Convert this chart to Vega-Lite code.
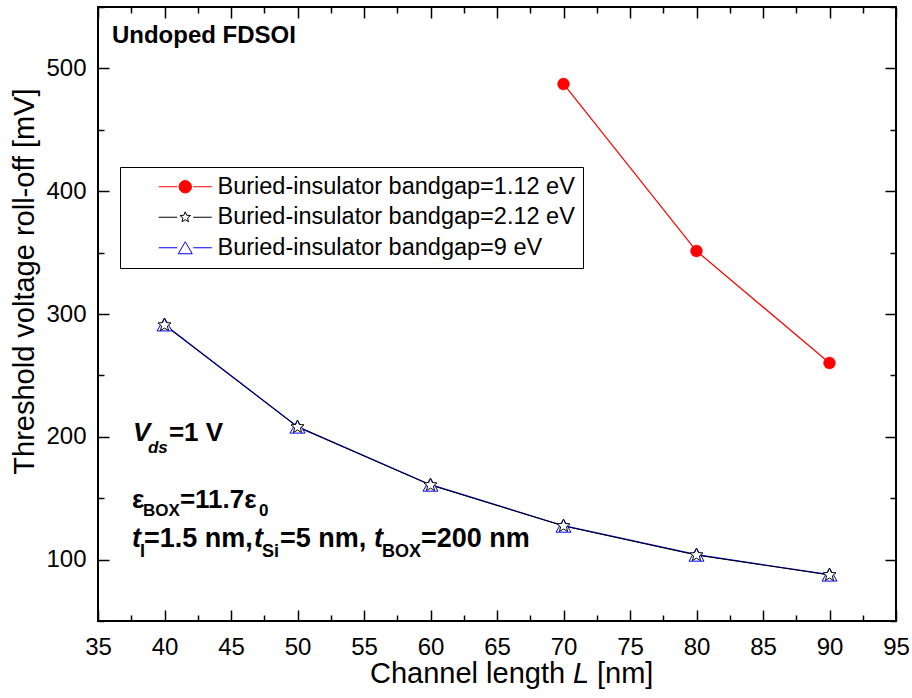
{
  "$schema": "https://vega.github.io/schema/vega-lite/v6.json",
  "width": 798,
  "height": 614,
  "autosize": "none",
  "padding": {"left": 98, "top": 7, "right": 16, "bottom": 77},
  "background": "white",
  "config": {
    "view": {"stroke": "black", "strokeWidth": 2},
    "font": "Liberation Sans",
    "axis": {
      "labelFont": "Liberation Sans", "labelFontSize": 24, "labelColor": "black",
      "tickColor": "black", "tickWidth": 1.5, "grid": false, "domain": false,
      "titleFont": "Liberation Sans", "titleFontSize": 29, "titleFontWeight": "normal", "titleColor": "black",
      "labelFlush": false, "labelOverlap": false, "labelBound": false
    }
  },
  "datasets": {
    "pts": [
      {"series": "Buried-insulator bandgap=1.12 eV", "L": 70, "V": 487.3},
      {"series": "Buried-insulator bandgap=1.12 eV", "L": 80, "V": 351.3},
      {"series": "Buried-insulator bandgap=1.12 eV", "L": 90, "V": 260.1},
      {"series": "Buried-insulator bandgap=2.12 eV", "L": 40, "V": 291},
      {"series": "Buried-insulator bandgap=2.12 eV", "L": 50, "V": 208},
      {"series": "Buried-insulator bandgap=2.12 eV", "L": 60, "V": 160.7},
      {"series": "Buried-insulator bandgap=2.12 eV", "L": 70, "V": 127.4},
      {"series": "Buried-insulator bandgap=2.12 eV", "L": 80, "V": 103.7},
      {"series": "Buried-insulator bandgap=2.12 eV", "L": 90, "V": 87.5},
      {"series": "Buried-insulator bandgap=9 eV", "L": 40, "V": 291.5},
      {"series": "Buried-insulator bandgap=9 eV", "L": 50, "V": 208.3},
      {"series": "Buried-insulator bandgap=9 eV", "L": 60, "V": 161},
      {"series": "Buried-insulator bandgap=9 eV", "L": 70, "V": 127.6},
      {"series": "Buried-insulator bandgap=9 eV", "L": 80, "V": 104},
      {"series": "Buried-insulator bandgap=9 eV", "L": 90, "V": 87.8}
    ],
    "one": [{}]
  },
  "data": {"name": "pts"},
  "layer": [
    {
      "transform": [{"filter": {"field": "series", "equal": "Buried-insulator bandgap=1.12 eV"}}],
      "mark": {"type": "line", "strokeWidth": 1.2, "color": "#ff0000"},
      "encoding": {
        "x": {"field": "L", "type": "quantitative", "scale": {"domain": [35, 95], "nice": false, "zero": false},
          "axis": {"orient": "bottom", "values": [35, 40, 45, 50, 55, 60, 65, 70, 75, 80, 85, 90, 95], "tickSize": -11, "labelPadding": 25, "title": null}},
        "y": {"field": "V", "type": "quantitative", "scale": {"domain": [50, 550], "nice": false, "zero": false},
          "axis": {"orient": "left", "values": [100, 200, 300, 400, 500], "tickSize": -11, "labelPadding": 23,
            "title": "Threshold voltage roll-off [mV]", "titleX": -65, "titleY": 274, "titleAngle": -90, "titleBaseline": "alphabetic", "titleAlign": "center"}}
      }
    },
    {
      "transform": [{"filter": {"field": "series", "equal": "Buried-insulator bandgap=9 eV"}}],
      "mark": {"type": "line", "strokeWidth": 1.2, "color": "#0000ff"},
      "encoding": {
        "x": {"field": "L", "type": "quantitative", "scale": {"domain": [35, 95], "nice": false, "zero": false}, "axis": null},
        "y": {"field": "V", "type": "quantitative", "scale": {"domain": [50, 550], "nice": false, "zero": false}, "axis": null}
      }
    },
    {
      "transform": [{"filter": {"field": "series", "equal": "Buried-insulator bandgap=2.12 eV"}}],
      "mark": {"type": "line", "strokeWidth": 1, "color": "#000000"},
      "encoding": {
        "x": {"field": "L", "type": "quantitative", "scale": {"domain": [35, 95], "nice": false, "zero": false}, "axis": null},
        "y": {"field": "V", "type": "quantitative", "scale": {"domain": [50, 550], "nice": false, "zero": false}, "axis": null}
      }
    },
    {
      "transform": [{"filter": {"field": "series", "equal": "Buried-insulator bandgap=9 eV"}}],
      "mark": {"type": "point", "shape": "triangle-up", "size": 225, "filled": true, "fill": "white", "stroke": "#0000ff", "strokeWidth": 1, "opacity": 1},
      "encoding": {
        "x": {"field": "L", "type": "quantitative", "scale": {"domain": [35, 95], "nice": false, "zero": false},
          "axis": {"orient": "bottom", "values": [37.5, 42.5, 47.5, 52.5, 57.5, 62.5, 67.5, 72.5, 77.5, 82.5, 87.5, 92.5], "tickSize": -6, "labels": false, "title": null}},
        "y": {"field": "V", "type": "quantitative", "scale": {"domain": [50, 550], "nice": false, "zero": false},
          "axis": {"orient": "left", "values": [50, 150, 250, 350, 450, 550], "tickSize": -6, "labels": false, "title": null}}
      }
    },
    {
      "transform": [{"filter": {"field": "series", "equal": "Buried-insulator bandgap=2.12 eV"}}],
      "mark": {"type": "point", "shape": "M0,-1L0.265,-0.364L0.951,-0.309L0.428,0.139L0.588,0.809L0,0.45L-0.588,0.809L-0.428,0.139L-0.951,-0.309L-0.265,-0.364Z", "size": 187, "filled": true, "fill": "white", "stroke": "#000000", "strokeWidth": 1, "opacity": 1},
      "encoding": {
        "x": {"field": "L", "type": "quantitative", "scale": {"domain": [35, 95], "nice": false, "zero": false},
          "axis": {"orient": "top", "values": [35, 40, 45, 50, 55, 60, 65, 70, 75, 80, 85, 90, 95], "tickSize": -11, "labels": false, "title": null}},
        "y": {"field": "V", "type": "quantitative", "scale": {"domain": [50, 550], "nice": false, "zero": false},
          "axis": {"orient": "right", "values": [100, 200, 300, 400, 500], "tickSize": -11, "labels": false, "title": null}}
      }
    },
    {
      "transform": [{"filter": {"field": "series", "equal": "Buried-insulator bandgap=1.12 eV"}}],
      "mark": {"type": "point", "shape": "circle", "size": 140, "filled": true, "fill": "#ff0000", "stroke": "#ff0000", "strokeWidth": 0.5, "opacity": 1},
      "encoding": {
        "x": {"field": "L", "type": "quantitative", "scale": {"domain": [35, 95], "nice": false, "zero": false},
          "axis": {"orient": "top", "values": [37.5, 42.5, 47.5, 52.5, 57.5, 62.5, 67.5, 72.5, 77.5, 82.5, 87.5, 92.5], "tickSize": -6, "labels": false, "title": null}},
        "y": {"field": "V", "type": "quantitative", "scale": {"domain": [50, 550], "nice": false, "zero": false},
          "axis": {"orient": "right", "values": [50, 150, 250, 350, 450, 550], "tickSize": -6, "labels": false, "title": null}}
      }
    },
    {
      "mark": {"type": "point", "opacity": 0, "strokeWidth": 1},
      "encoding": {
        "x": {"field": "L", "type": "quantitative", "scale": {"domain": [35, 95], "nice": false, "zero": false}, "axis": null},
        "y": {"field": "V", "type": "quantitative", "scale": {"domain": [50, 550], "nice": false, "zero": false}, "axis": null},
        "shape": {"field": "series", "type": "nominal",
          "scale": {"domain": ["Buried-insulator bandgap=1.12 eV", "Buried-insulator bandgap=2.12 eV", "Buried-insulator bandgap=9 eV"],
            "range": [
              "M-2.65,0H-0.8M0.8,0H2.65M0.62,0A0.62,0.62,0,1,1,-0.62,0A0.62,0.62,0,1,1,0.62,0Z",
              "M-2.65,0H-0.8M0.8,0H2.65M0,-0.55L0.146,-0.2L0.523,-0.17L0.235,0.076L0.323,0.445L0,0.2475L-0.323,0.445L-0.235,0.076L-0.523,-0.17L-0.146,-0.2Z",
              "M-2.65,0H-0.8M0.8,0H2.65M0,-0.6L0.7,0.6L-0.7,0.6Z"
            ]},
          "legend": {"title": null, "orient": "none", "legendX": 22, "legendY": 160, "padding": 8, "strokeColor": "black", "fillColor": "white",
            "labelFont": "Liberation Sans", "labelFontSize": 23.5, "labelColor": "black", "labelLimit": 1000, "symbolSize": 400, "symbolOffset": 45.5, "labelOffset": 20.5,
            "rowPadding": 5.5, "symbolStrokeWidth": 1, "symbolOpacity": 1}},
        "fill": {"field": "series", "type": "nominal",
          "scale": {"domain": ["Buried-insulator bandgap=1.12 eV", "Buried-insulator bandgap=2.12 eV", "Buried-insulator bandgap=9 eV"], "range": ["#ff0000", "#ffffff", "#ffffff"]},
          "legend": {"title": null, "orient": "none", "legendX": 22, "legendY": 160, "symbolOpacity": 1, "labelLimit": 1000}},
        "stroke": {"field": "series", "type": "nominal",
          "scale": {"domain": ["Buried-insulator bandgap=1.12 eV", "Buried-insulator bandgap=2.12 eV", "Buried-insulator bandgap=9 eV"], "range": ["#ff0000", "#000000", "#0000ff"]},
          "legend": {"title": null, "orient": "none", "legendX": 22, "legendY": 160, "symbolOpacity": 1, "labelLimit": 1000}}
      }
    },
    {
      "data": {"name": "one"},
      "mark": {"type": "text", "text": "Channel length", "font": "Liberation Sans", "fontSize": 29, "align": "left", "baseline": "alphabetic", "color": "black", "dx": 0},
      "encoding": {"x": {"datum": 55.45, "type": "quantitative", "axis": null}, "y": {"datum": -0.5, "type": "quantitative", "axis": null}}
    },
    {
      "data": {"name": "one"},
      "mark": {"type": "text", "text": "L", "font": "Liberation Sans", "fontSize": 29, "fontStyle": "italic", "align": "left", "baseline": "alphabetic", "color": "black", "dx": 203},
      "encoding": {"x": {"datum": 55.45, "type": "quantitative", "axis": null}, "y": {"datum": -0.5, "type": "quantitative", "axis": null}}
    },
    {
      "data": {"name": "one"},
      "mark": {"type": "text", "text": "[nm]", "font": "Liberation Sans", "fontSize": 29, "align": "left", "baseline": "alphabetic", "color": "black", "dx": 227},
      "encoding": {"x": {"datum": 55.45, "type": "quantitative", "axis": null}, "y": {"datum": -0.5, "type": "quantitative", "axis": null}}
    },
    {
      "data": {"name": "one"},
      "mark": {"type": "text", "text": "Undoped FDSOI", "font": "Liberation Sans", "fontSize": 24, "fontWeight": "bold", "align": "left", "baseline": "alphabetic", "color": "black"},
      "encoding": {"x": {"datum": 36.05, "type": "quantitative", "axis": null}, "y": {"datum": 520.7, "type": "quantitative", "axis": null}}
    },
    {
      "data": {"name": "one"},
      "mark": {"type": "text", "text": "V", "font": "Liberation Sans", "fontSize": 26, "fontWeight": "bold", "fontStyle": "italic", "align": "left", "baseline": "alphabetic", "color": "black", "dx": 1},
      "encoding": {"x": {"datum": 37.55, "type": "quantitative", "axis": null}, "y": {"datum": 196.6, "type": "quantitative", "axis": null}}
    },
    {
      "data": {"name": "one"},
      "mark": {"type": "text", "text": "ds", "font": "Liberation Sans", "fontSize": 17, "fontWeight": "bold", "fontStyle": "italic", "align": "left", "baseline": "alphabetic", "color": "black", "dx": 16, "dy": 12},
      "encoding": {"x": {"datum": 37.55, "type": "quantitative", "axis": null}, "y": {"datum": 196.6, "type": "quantitative", "axis": null}}
    },
    {
      "data": {"name": "one"},
      "mark": {"type": "text", "text": "=1 V", "font": "Liberation Sans", "fontSize": 26, "fontWeight": "bold", "align": "left", "baseline": "alphabetic", "color": "black", "dx": 37},
      "encoding": {"x": {"datum": 37.55, "type": "quantitative", "axis": null}, "y": {"datum": 196.6, "type": "quantitative", "axis": null}}
    },
    {
      "data": {"name": "one"},
      "mark": {"type": "text", "text": "ε", "font": "Liberation Sans", "fontSize": 26, "fontWeight": "bold", "align": "left", "baseline": "alphabetic", "color": "black", "dx": 0},
      "encoding": {"x": {"datum": 37.55, "type": "quantitative", "axis": null}, "y": {"datum": 142, "type": "quantitative", "axis": null}}
    },
    {
      "data": {"name": "one"},
      "mark": {"type": "text", "text": "BOX", "font": "Liberation Sans", "fontSize": 17, "fontWeight": "bold", "align": "left", "baseline": "alphabetic", "color": "black", "dx": 11, "dy": 8},
      "encoding": {"x": {"datum": 37.55, "type": "quantitative", "axis": null}, "y": {"datum": 142, "type": "quantitative", "axis": null}}
    },
    {
      "data": {"name": "one"},
      "mark": {"type": "text", "text": "=11.7ε", "font": "Liberation Sans", "fontSize": 26, "fontWeight": "bold", "align": "left", "baseline": "alphabetic", "color": "black", "dx": 48},
      "encoding": {"x": {"datum": 37.55, "type": "quantitative", "axis": null}, "y": {"datum": 142, "type": "quantitative", "axis": null}}
    },
    {
      "data": {"name": "one"},
      "mark": {"type": "text", "text": "0", "font": "Liberation Sans", "fontSize": 17, "fontWeight": "bold", "align": "left", "baseline": "alphabetic", "color": "black", "dx": 127, "dy": 8},
      "encoding": {"x": {"datum": 37.55, "type": "quantitative", "axis": null}, "y": {"datum": 142, "type": "quantitative", "axis": null}}
    },
    {
      "data": {"name": "one"},
      "mark": {"type": "text", "text": "t", "font": "Liberation Sans", "fontSize": 27, "fontWeight": "bold", "fontStyle": "italic", "align": "left", "baseline": "alphabetic", "color": "black", "dx": 0},
      "encoding": {"x": {"datum": 37.55, "type": "quantitative", "axis": null}, "y": {"datum": 110.3, "type": "quantitative", "axis": null}}
    },
    {
      "data": {"name": "one"},
      "mark": {"type": "text", "text": "I", "font": "Liberation Sans", "fontSize": 18, "fontWeight": "bold", "align": "left", "baseline": "alphabetic", "color": "black", "dx": 8, "dy": 10},
      "encoding": {"x": {"datum": 37.55, "type": "quantitative", "axis": null}, "y": {"datum": 110.3, "type": "quantitative", "axis": null}}
    },
    {
      "data": {"name": "one"},
      "mark": {"type": "text", "text": "=1.5 nm,", "font": "Liberation Sans", "fontSize": 27, "fontWeight": "bold", "align": "left", "baseline": "alphabetic", "color": "black", "dx": 12},
      "encoding": {"x": {"datum": 37.55, "type": "quantitative", "axis": null}, "y": {"datum": 110.3, "type": "quantitative", "axis": null}}
    },
    {
      "data": {"name": "one"},
      "mark": {"type": "text", "text": "t", "font": "Liberation Sans", "fontSize": 27, "fontWeight": "bold", "fontStyle": "italic", "align": "left", "baseline": "alphabetic", "color": "black", "dx": 122},
      "encoding": {"x": {"datum": 37.55, "type": "quantitative", "axis": null}, "y": {"datum": 110.3, "type": "quantitative", "axis": null}}
    },
    {
      "data": {"name": "one"},
      "mark": {"type": "text", "text": "Si", "font": "Liberation Sans", "fontSize": 18, "fontWeight": "bold", "align": "left", "baseline": "alphabetic", "color": "black", "dx": 130, "dy": 10},
      "encoding": {"x": {"datum": 37.55, "type": "quantitative", "axis": null}, "y": {"datum": 110.3, "type": "quantitative", "axis": null}}
    },
    {
      "data": {"name": "one"},
      "mark": {"type": "text", "text": "=5 nm,", "font": "Liberation Sans", "fontSize": 27, "fontWeight": "bold", "align": "left", "baseline": "alphabetic", "color": "black", "dx": 148},
      "encoding": {"x": {"datum": 37.55, "type": "quantitative", "axis": null}, "y": {"datum": 110.3, "type": "quantitative", "axis": null}}
    },
    {
      "data": {"name": "one"},
      "mark": {"type": "text", "text": "t", "font": "Liberation Sans", "fontSize": 27, "fontWeight": "bold", "fontStyle": "italic", "align": "left", "baseline": "alphabetic", "color": "black", "dx": 242},
      "encoding": {"x": {"datum": 37.55, "type": "quantitative", "axis": null}, "y": {"datum": 110.3, "type": "quantitative", "axis": null}}
    },
    {
      "data": {"name": "one"},
      "mark": {"type": "text", "text": "BOX", "font": "Liberation Sans", "fontSize": 18, "fontWeight": "bold", "align": "left", "baseline": "alphabetic", "color": "black", "dx": 250, "dy": 10},
      "encoding": {"x": {"datum": 37.55, "type": "quantitative", "axis": null}, "y": {"datum": 110.3, "type": "quantitative", "axis": null}}
    },
    {
      "data": {"name": "one"},
      "mark": {"type": "text", "text": "=200 nm", "font": "Liberation Sans", "fontSize": 27, "fontWeight": "bold", "align": "left", "baseline": "alphabetic", "color": "black", "dx": 289},
      "encoding": {"x": {"datum": 37.55, "type": "quantitative", "axis": null}, "y": {"datum": 110.3, "type": "quantitative", "axis": null}}
    }
  ],
  "resolve": {"axis": {"x": "independent", "y": "independent"}}
}
